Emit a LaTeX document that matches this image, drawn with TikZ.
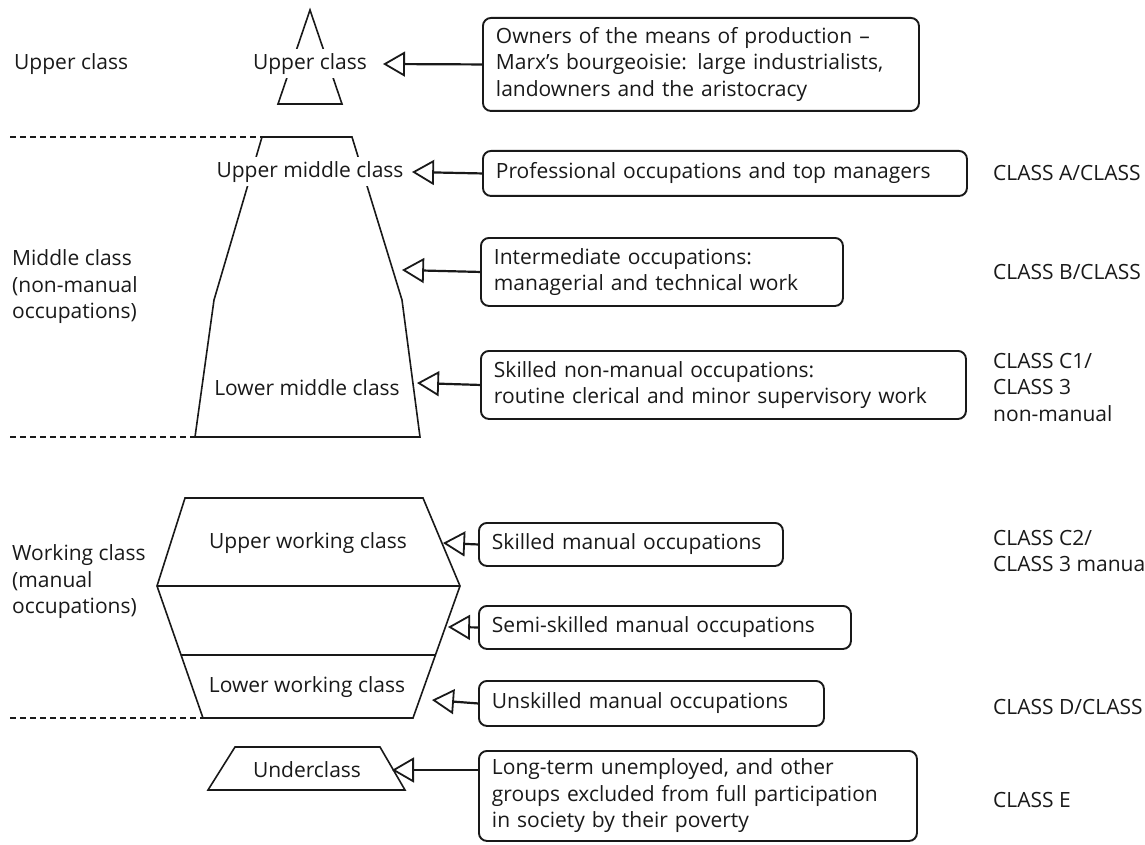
\documentclass[tikz,border=0pt]{standalone}
\usepackage{fontspec}
\setmainfont{Open Sans}
\usetikzlibrary{arrows.meta}

\begin{document}
\begin{tikzpicture}[x=1pt, y=-1pt,
    font=\fontsize{21}{26.5}\selectfont, color=black!90,
    layer/.style={line width=1.6pt, line join=miter},
    layerlabel/.style={fill=white, inner sep=4pt},
    sidelabel/.style={anchor=west, align=left, inner sep=0pt},
    occbox/.style={draw, line width=1.9pt, rounded corners=8pt, anchor=north west,
        align=left, inner xsep=13pt, inner ysep=0pt},
    pointer/.style={line width=2.2pt, -{Triangle[open, length=22pt 0 0, width=25pt 0 0, line width=1.8pt]}},
    divider/.style={line width=1.2pt, dash pattern=on 6pt off 4pt}]
    \useasboundingbox (0,0) rectangle (1145,845);
    \clip (0,0) rectangle (1145,845);

    % left column
    \node[sidelabel] (upperL) at (14,64) {Upper class};
    \node[sidelabel] (middleL) at (12,287) {Middle class\\(non-manual\\occupations)};
    \node[sidelabel] (workingL) at (12,582) {Working class\\(manual\\occupations)};

    % upper class triangle
    \coordinate (ucTop) at (310,10);
    \draw[layer] (ucTop) -- (342,104) -- (278,104) -- cycle;
    \node[layerlabel] (ucl) at (310,64) {Upper class};

    % middle class block
    \coordinate (mcTL) at (262,137); \coordinate (mcTR) at (352,137);
    \coordinate (mcBL) at (195,437); \coordinate (mcBR) at (420,437);
    \draw[layer] (mcTL) -- (mcTR) -- (402,300) -- (mcBR) -- (mcBL) -- (214,300) -- cycle;
    \node[layerlabel] (umc) at (310,172) {Upper middle class};
    \node[layerlabel] (lmc) at (307,388) {Lower middle class};

    % working class block
    \coordinate (wcL) at (157,586); \coordinate (wcR) at (460,586);
    \coordinate (wcBL) at (203,718); \coordinate (wcBR) at (413,718);
    \draw[layer] (185,498) -- (423,498) -- (wcR) -- (wcBR) -- (wcBL) -- (wcL) -- cycle;
    \draw[layer] (wcL) -- (wcR);
    \draw[layer] (181,655) -- (435,655);
    \node (uwc) at (308,543) {Upper working class};
    \node (lwc) at (307,687) {Lower working class};

    % underclass
    \draw[layer] (235,747) -- (380,747) -- (405,790) -- (208,790) -- cycle;
    \node (ucls) at (307,770) {Underclass};

    % dashed dividers
    \coordinate (d1) at (10,137); \coordinate (d2) at (10,437); \coordinate (d3) at (10,718);
    \draw[divider] (d1) -- (mcTL);
    \draw[divider] (d2) -- (mcBL);
    \draw[divider] (d3) -- (wcBL);

    % occupation boxes
    \node[occbox, minimum width=436pt, minimum height=93pt, text width=410pt] (own) at (482,17)
        {Owners of the means of production --\\Marx's bourgeoisie: large industrialists,\\landowners and the aristocracy};
    \node[occbox, minimum width=484pt, minimum height=45pt, text width=458pt] (prof) at (482,150)
        {Professional occupations and top managers};
    \node[occbox, minimum width=362pt, minimum height=68pt, text width=336pt] (inter) at (480,237)
        {Intermediate occupations:\\managerial and technical work};
    \node[occbox, minimum width=485pt, minimum height=68pt, text width=459pt] (skillnm) at (480,350)
        {Skilled non-manual occupations:\\routine clerical and minor supervisory work};
    \node[occbox, minimum width=304pt, minimum height=43pt, text width=278pt] (skilled) at (478,522)
        {Skilled manual occupations};
    \node[occbox, minimum width=372pt, minimum height=43pt, text width=346pt] (semi) at (478,605)
        {Semi-skilled manual occupations};
    \node[occbox, minimum width=345pt, minimum height=45pt, text width=319pt] (unskilled) at (478,680)
        {Unskilled manual occupations};
    \node[occbox, minimum width=438pt, minimum height=90pt, text width=412pt] (longterm) at (478,750)
        {Long-term unemployed, and other\\groups excluded from full participation\\in society by their poverty};

    % arrow tips
    \coordinate (ownTip) at (383,64);
    \coordinate (profTip) at (412,172);
    \coordinate (interTip) at (402,270);
    \coordinate (skillnmTip) at (417,383);
    \coordinate (skilledTip) at (443,543);
    \coordinate (semiTip) at (448,627);
    \coordinate (unskilledTip) at (432,700);
    \coordinate (underTip) at (392,770);

    \draw[pointer] (own.west) -- (ownTip);
    \draw[pointer] (prof.west) -- (profTip);
    \draw[pointer] (inter.west) -- (interTip);
    \draw[pointer] (skillnm.west) -- (skillnmTip);
    \draw[pointer] (skilled.west) -- (skilledTip);
    \draw[pointer] (semi.west) -- (semiTip);
    \draw[pointer] (unskilled.west) -- (unskilledTip);
    \draw[pointer] (underTip -| longterm.west) -- (underTip);

    % right column
    \node[sidelabel] (clA) at (993,173) {CLASS A/CLASS};
    \node[sidelabel] (clB) at (993,272) {CLASS B/CLASS};
    \node[sidelabel] (clC1) at (993,387) {CLASS C1/\\CLASS 3\\non-manual};
    \node[sidelabel] (clC2) at (993,551) {CLASS C2/\\CLASS 3 manua};
    \node[sidelabel] (clD) at (993,707) {CLASS D/CLASS};
    \node[sidelabel] (clE) at (993,800) {CLASS E};
\end{tikzpicture}
\end{document}
